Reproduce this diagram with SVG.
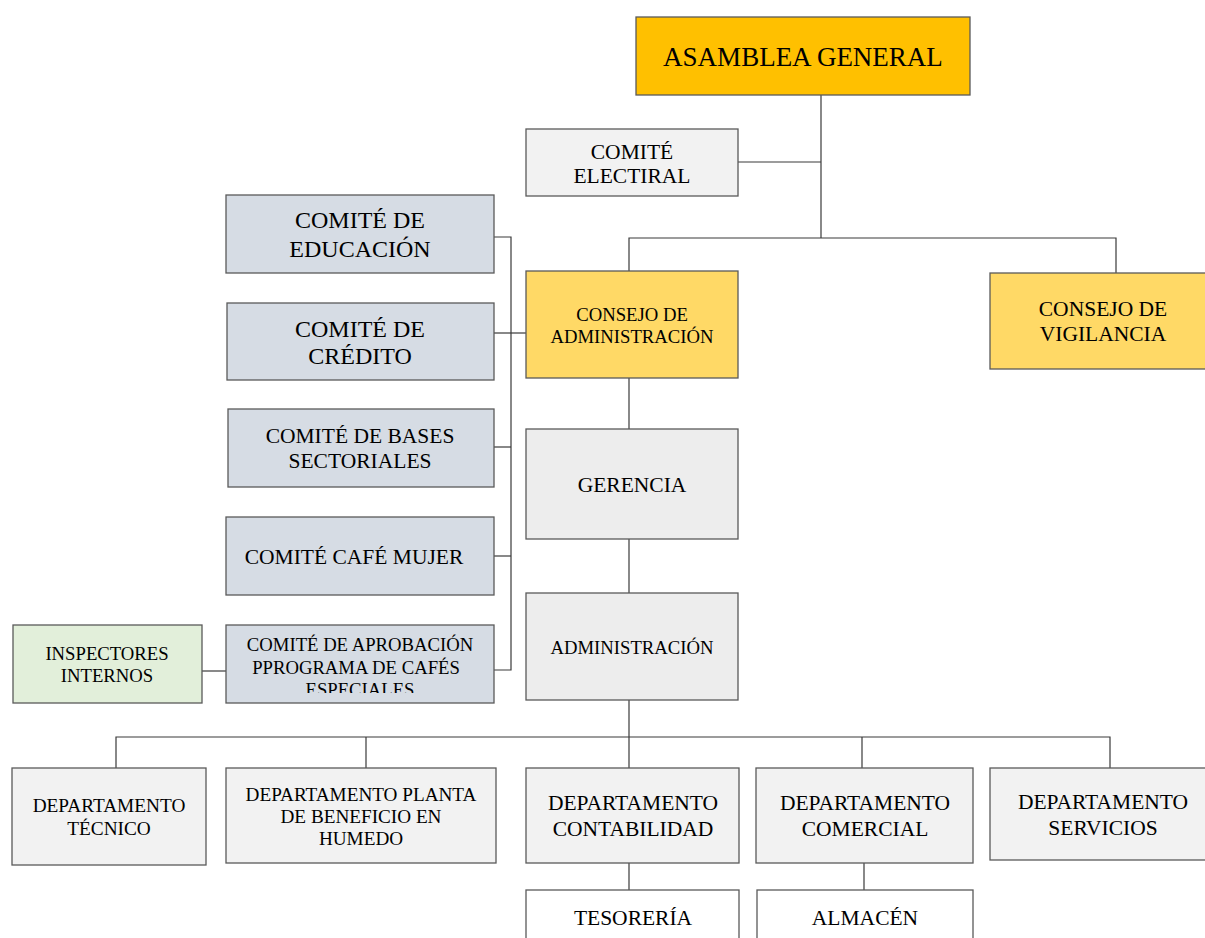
<svg xmlns="http://www.w3.org/2000/svg" width="1205" height="938" viewBox="0 0 1205 938">
<style>
rect{stroke:#5a5a5a;stroke-width:1.3}
.gold{fill:#FFC000}
.yel{fill:#FFD966}
.lg{fill:#F2F2F2}
.gr{fill:#EDEDED}
.bl{fill:#D6DCE4}
.gn{fill:#E2EFDA}
.wh{fill:#FFFFFF}
text{font-family:"Liberation Serif","Times New Roman",serif;fill:#000;text-anchor:middle}
.s1{font-size:21.5px}
.s2{font-size:18.7px}
.s3{font-size:24px}
.c line,.c path{stroke:#3a3a3a;stroke-width:1.2;fill:none}
</style>
<defs>
<clipPath id="clipApr"><rect x="226" y="625" width="268" height="68" style="stroke:none"/></clipPath>
</defs>
<g class="c" id="connectors">
<line x1="821" y1="95" x2="821" y2="238"/>
<line x1="738" y1="162" x2="821" y2="162"/>
<path d="M629 271V238H1116V273"/>
<path d="M494 237H511V670H494"/>
<line x1="494" y1="333" x2="526" y2="333"/>
<line x1="494" y1="447" x2="511" y2="447"/>
<line x1="494" y1="556" x2="511" y2="556"/>
<line x1="202" y1="671" x2="226" y2="671"/>
<line x1="629" y1="378" x2="629" y2="429"/>
<line x1="629" y1="539" x2="629" y2="593"/>
<line x1="629" y1="700" x2="629" y2="768"/>
<path d="M116 768V737H1110V768"/>
<line x1="366" y1="737" x2="366" y2="768"/>
<line x1="862" y1="737" x2="862" y2="768"/>
<line x1="629" y1="863" x2="629" y2="890"/>
<line x1="864" y1="863" x2="864" y2="890"/>
</g>
<g id="asamblea"><rect class="gold" x="636" y="17" width="334" height="78"/><text x="803" y="66" font-size="27">ASAMBLEA GENERAL</text></g>
<g id="electiral"><rect class="lg" x="526" y="129" width="212" height="67"/><text class="s1" x="632" y="159">COMITÉ</text><text class="s1" x="632" y="183">ELECTIRAL</text></g>
<g id="consejo-admin"><rect class="yel" x="526" y="271" width="212" height="107"/><text class="s2" x="632" y="321">CONSEJO DE</text><text class="s2" x="632" y="343">ADMINISTRACIÓN</text></g>
<g id="consejo-vig"><rect class="yel" x="990" y="273" width="220" height="96"/><text class="s1" x="1103" y="316">CONSEJO DE</text><text class="s1" x="1103" y="341">VIGILANCIA</text></g>
<g id="gerencia"><rect class="gr" x="526" y="429" width="212" height="110"/><text class="s1" x="632" y="492">GERENCIA</text></g>
<g id="administracion"><rect class="gr" x="526" y="593" width="212" height="107"/><text class="s2" x="632" y="654">ADMINISTRACIÓN</text></g>
<g id="educacion"><rect class="bl" x="226" y="195" width="268" height="78"/><text class="s3" x="360" y="228">COMITÉ DE</text><text class="s3" x="360" y="257">EDUCACIÓN</text></g>
<g id="credito"><rect class="bl" x="227" y="303" width="267" height="77"/><text class="s3" x="360" y="337">COMITÉ DE</text><text class="s3" x="360" y="364">CRÉDITO</text></g>
<g id="bases"><rect class="bl" x="228" y="409" width="266" height="78"/><text class="s1" x="360" y="443">COMITÉ DE BASES</text><text class="s1" x="360" y="468">SECTORIALES</text></g>
<g id="cafe-mujer"><rect class="bl" x="226" y="517" width="268" height="78"/><text class="s1" x="354" y="564">COMITÉ CAFÉ MUJER</text></g>
<g id="aprobacion"><rect class="bl" x="226" y="625" width="268" height="78"/><g clip-path="url(#clipApr)"><text class="s2" x="360" y="651">COMITÉ DE APROBACIÓN</text><text class="s2" x="356" y="674">PPROGRAMA DE CAFÉS</text><text class="s2" x="360" y="696">ESPECIALES</text></g></g>
<g id="inspectores"><rect class="gn" x="13" y="625" width="189" height="78"/><text class="s2" x="107" y="660">INSPECTORES</text><text class="s2" x="107" y="682">INTERNOS</text></g>
<g id="dep-tecnico"><rect class="lg" x="12" y="768" width="194" height="97"/><text x="109" y="812" font-size="19.3">DEPARTAMENTO</text><text x="109" y="835" font-size="19.3">TÉCNICO</text></g>
<g id="dep-planta"><rect class="lg" x="226" y="768" width="270" height="95"/><text x="361" y="801" font-size="19.2">DEPARTAMENTO PLANTA</text><text x="361" y="823" font-size="19.2">DE BENEFICIO EN</text><text x="361" y="845" font-size="19.2">HUMEDO</text></g>
<g id="dep-contabilidad"><rect class="lg" x="526" y="768" width="213" height="95"/><text class="s1" x="633" y="810">DEPARTAMENTO</text><text class="s1" x="633" y="836">CONTABILIDAD</text></g>
<g id="dep-comercial"><rect class="lg" x="756" y="768" width="217" height="95"/><text class="s1" x="865" y="810">DEPARTAMENTO</text><text class="s1" x="865" y="836">COMERCIAL</text></g>
<g id="dep-servicios"><rect class="lg" x="990" y="768" width="220" height="92"/><text class="s1" x="1103" y="809">DEPARTAMENTO</text><text class="s1" x="1103" y="835">SERVICIOS</text></g>
<g id="tesoreria"><rect class="wh" x="526" y="890" width="213" height="60"/><text class="s1" x="633" y="925">TESORERÍA</text></g>
<g id="almacen"><rect class="wh" x="757" y="890" width="216" height="60"/><text class="s1" x="865" y="925">ALMACÉN</text></g>
</svg>
